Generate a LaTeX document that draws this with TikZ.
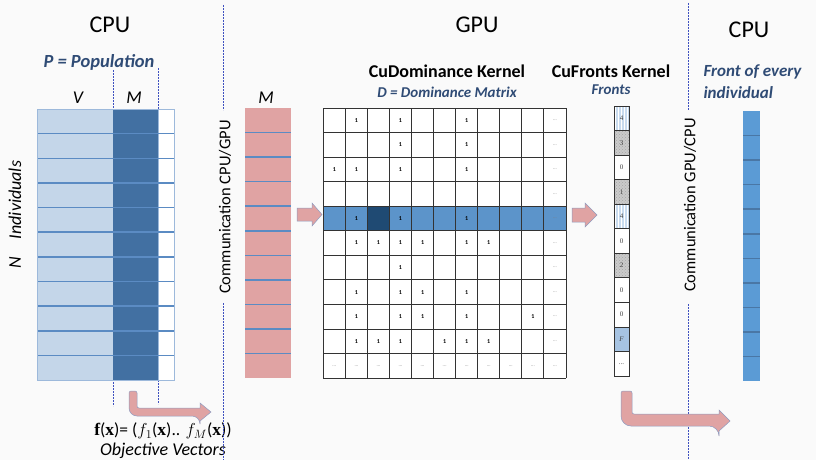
\documentclass[tikz,border=0pt]{standalone}
\usepackage{fontspec}
\setmainfont{Carlito}
\newfontfamily\tnr{Liberation Serif}
\usetikzlibrary{patterns}
\definecolor{lightv}{HTML}{C4D6E9}
\definecolor{darkm}{HTML}{4270A2}
\definecolor{rowline}{HTML}{5B8BC3}
\definecolor{pinkc}{HTML}{E0A3A3}
\definecolor{hilite}{HTML}{5C94CA}
\definecolor{navy}{HTML}{1F4A73}
\definecolor{txtblue}{HTML}{2F4B75}
\definecolor{dashc}{HTML}{3F51C0}
\definecolor{colblue}{HTML}{5B9BD5}
\definecolor{colline}{HTML}{4A77A5}
\definecolor{arrowedge}{HTML}{8F9CC0}
\definecolor{bgc}{HTML}{FAFAFA}
\definecolor{patblue}{HTML}{C8DBEF}
\definecolor{patgrey}{HTML}{CACACA}
\definecolor{fblue}{HTML}{A6C3E2}
\begin{document}
\begin{tikzpicture}[x=1pt,y=-1pt,
  sep/.style={dashc, line width=0.8pt, dash pattern=on 2pt off 1pt},
  title/.style={font=\fontsize{24}{28}\selectfont},
  kernel/.style={font=\bfseries\fontsize{18}{21}\selectfont},
  sub/.style={font=\bfseries\itshape\fontsize{18.5}{21}\selectfont, text=txtblue},
  subsmall/.style={font=\bfseries\itshape\fontsize{15}{17}\selectfont, text=txtblue},
  subbig/.style={font=\bfseries\itshape\fontsize{17}{20}\selectfont, text=txtblue},
  ital/.style={font=\itshape\fontsize{18}{21}\selectfont},
  comm/.style={font=\fontsize{16.5}{19}\selectfont, rotate=90},
  one/.style={font=\bfseries\fontsize{6}{7}\selectfont, inner sep=0},
  dotsl/.style={font=\fontsize{5}{6}\selectfont, text=gray, inner sep=0},
  fnum/.style={font=\tnr\fontsize{7}{8}\selectfont, text=black!75, inner sep=0},
  blockarrow/.style={fill=pinkc, draw=arrowedge, line width=0.5pt},
  gridline/.style={draw=black!80, line width=0.9pt},
  rowsep/.style={rowline, line width=1.5pt},
  bp/.style={fill=patblue, postaction={pattern=vertical lines, pattern color=white}},
  gp/.style={fill=patgrey, postaction={pattern=crosshatch dots, pattern color=black!35}},
  wp/.style={fill=white},
  fp/.style={fill=fblue},
]
\fill[bgc] (0,0) rectangle (816,460);
\useasboundingbox (0,0) rectangle (816,460);

% titles
\node[title] (cpu1) at (110,25) {CPU};
\node[title] (gpu) at (477,25) {GPU};
\node[title] (cpu2) at (749,30) {CPU};

% left population table
\node[sub] (pop) at (99,62) {P = Population};
\draw[sep] (113,70) -- (113,406);
\draw[sep] (158,68) -- (158,404);
\node[ital] (vlab) at (78,98) {V};
\node[ital] (mlab) at (134,98) {M};
\fill[lightv] (37,109) rectangle (113,380);
\fill[darkm] (113,109) rectangle (158,380);
\fill[white] (158,109) rectangle (174,380);
\draw[rowline!60, line width=0.6pt] (37,109) rectangle (174,380);
\draw[rowline!60, line width=0.4pt] (158,109) -- (158,380);
\foreach \i in {1,...,10} \draw[rowsep] (38,109+\i*24.64) -- (174,109+\i*24.64);
\node[ital, rotate=90] (nlab) at (15,263) {N};
\node[ital, rotate=90] (indiv) at (15,200) {Individuals};

% objective vectors
\filldraw[blockarrow, rounded corners=8pt] (129,391) -- (129,416) -- (200,416) [sharp corners] -- (200,421) -- (211,412) -- (200,403) -- (200,408) [rounded corners=2pt] -- (137,408) -- (137,391) -- cycle;
\node[font=\fontsize{17.5}{20}\selectfont] (fx) at (163,431) {{\tnr\bfseries f}({\tnr\bfseries x})= ($f_{1}$({\tnr\bfseries x}).. $f_{M}$({\tnr\bfseries x}))};
\node[ital] (objv) at (163,451) {Objective Vectors};

% communication CPU/GPU
\draw[sep] (223,5) -- (223,110);
\draw[sep] (223,303) -- (223,460);
\node[comm] (comm1) at (225,207) {Communication CPU/GPU};

% pink objective column
\node[ital] (mlab2) at (266,98) {M};
\fill[pinkc] (245,108) rectangle (291,378);
\foreach \i in {1,...,10} \draw[rowsep] (245,108+\i*24.55) -- (291,108+\i*24.55);
\filldraw[blockarrow] (297,208) -- (312,208) -- (312,203) -- (322,214.5) -- (312,226) -- (312,221) -- (297,221) -- cycle;

% dominance matrix
\node[kernel] (cudom) at (447,71) {CuDominance Kernel};
\node[subsmall] (dmat) at (447,92) {D = Dominance Matrix};
\fill[white] (323.3,108) rectangle (566,378);
\fill[hilite] (323.3,206.2) rectangle (566,230.75);
\fill[navy] (367.4,206.2) rectangle (389.5,230.75);
\foreach \j in {0,...,11} \draw[gridline] (323.3+22.06*\j,108) -- (323.3+22.06*\j,378);
\foreach \i in {0,...,11} \draw[gridline] (323.3,108+24.55*\i) -- (566,108+24.55*\i);
\foreach \i/\j in {0/1,0/3,0/6,1/3,1/6,2/0,2/1,2/3,2/6,4/1,4/3,4/6,5/1,5/2,5/3,5/4,5/6,5/7,6/3,7/1,7/3,7/4,7/6,8/1,8/3,8/4,8/6,8/9,9/1,9/2,9/3,9/5,9/6,9/7}
  \node[one] (d\i-\j) at (334.33+22.06*\j, 120.27+24.55*\i) {1};
\foreach \i in {0,...,9} \node[dotsl] (e\i) at (334.33+22.06*10, 120.27+24.55*\i) {...};
\foreach \j in {0,...,10} \node[dotsl] (r\j) at (334.33+22.06*\j, 120.27+24.55*10) {...};

% fronts kernel
\node[kernel] (cufr) at (611,71) {CuFronts Kernel};
\node[subsmall] (fr) at (611,90) {Fronts};
\filldraw[blockarrow] (572,208) -- (585,208) -- (585,203) -- (597,215) -- (585,227) -- (585,222) -- (572,222) -- cycle;
\foreach \k/\v/\s in {0/4/bp,1/3/gp,2/0/wp,3/1/gp,4/4/bp,5/0/wp,6/2/gp,7/0/wp,8/0/wp,9/{\textit{F}}/fp,10/{...}/wp} {
  \path[\s] (614,106+24.55*\k) rectangle (629,130.55+24.55*\k);
  \node[fnum] (f\k) at (621.5,118.27+24.55*\k) {\v};
}
\draw[gridline] (614,106) rectangle (629,376);
\foreach \k in {1,...,10} \draw[gridline] (614,106+24.55*\k) -- (629,106+24.55*\k);

% communication GPU/CPU
\draw[sep] (688,3) -- (688,110);
\draw[sep] (688,304) -- (688,460);
\node[comm] (comm2) at (690,205) {Communication GPU/CPU};
\filldraw[blockarrow, rounded corners=10pt] (621,391) -- (621,426) -- (719,426) [sharp corners] -- (719,431) -- (730,421) -- (719,410) -- (719,414) [rounded corners=2pt] -- (632,414) -- (632,391) -- cycle;

% front of every individual
\node[subbig, anchor=base west] (fe1) at (700,76) {Front of every};
\node[subbig, anchor=base west] (fe2) at (700,98) {individual};
\fill[colblue] (743,111) rectangle (760,381);
\foreach \k in {1,...,10} \draw[colline, line width=1.5pt] (743,111+24.55*\k) -- (760,111+24.55*\k);
\end{tikzpicture}
\end{document}
